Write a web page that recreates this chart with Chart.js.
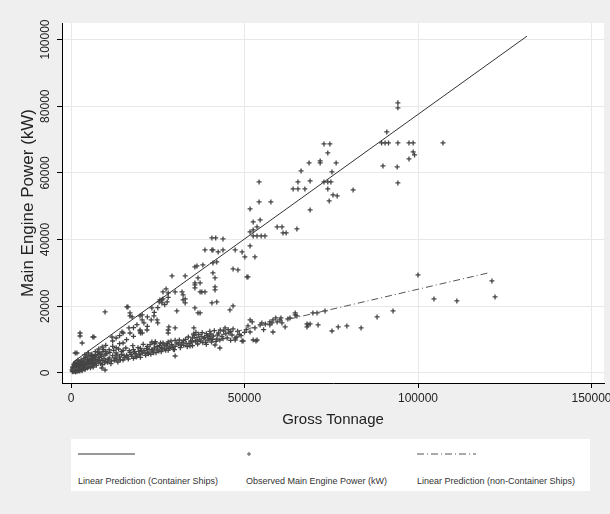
<!DOCTYPE html>
<html>
<head>
<meta charset="utf-8">
<script src="https://cdn.jsdelivr.net/npm/chart.js@4.4.1/dist/chart.umd.min.js"></script>
<style>
  body { margin: 0; background: #efefef; font-family: "Liberation Sans", Arial, sans-serif; }
  #wrap { position: relative; width: 610px; height: 514px; }
  #legend { position: absolute; left: 71px; top: 439px; width: 519px; height: 52px; background: #fff; }
  .item { position: absolute; top: 0; font-size: 9px; color: #333; }
  .item .sample { position: absolute; top: 10px; left: 0; }
  .item .label { position: absolute; top: 37px; left: 0; white-space: nowrap; }
</style>
</head>
<body>
<div id="wrap">
  <canvas id="chart" width="610" height="514"></canvas>
  <div id="legend">
    <div class="item" style="left:7px">
      <svg class="sample" width="60" height="10"><line x1="0" y1="5" x2="57" y2="5" stroke="#333" stroke-width="1"/></svg>
      <span class="label">Linear Prediction (Container Ships)</span>
    </div>
    <div class="item" style="left:175px">
      <svg class="sample" width="10" height="10"><path d="M3 3v4M1 5h4" stroke="#555" stroke-width="1"/></svg>
      <span class="label">Observed Main Engine Power (kW)</span>
    </div>
    <div class="item" style="left:346px">
      <svg class="sample" width="62" height="10"><line x1="0" y1="5" x2="59" y2="5" stroke="#555" stroke-width="1" stroke-dasharray="7,3,1,3"/></svg>
      <span class="label">Linear Prediction (non-Container Ships)</span>
    </div>
  </div>
</div>
<script>
const tonnageTicks = [0, 50000, 100000, 150000];
const powerTicks = [0, 20000, 40000, 60000, 80000, 100000];

// fitted lines (end points)
const containerFit = [[500, 3200], [131400, 101000]];
const nonContainerFit = [[100, 980], [120200, 30000]];

// observed ships: [gross tonnage, main engine power kW]
const observed = [
  [300,900],[500,1200],[600,700],[800,1500],[900,1000],[1000,2000],[1100,600],[1200,1300],[1300,1800],[1500,900],
  [1500,2400],[1600,1500],[1800,1100],[1900,2000],[2000,2800],[2100,700],[2200,1600],[2400,1200],[2500,2200],[2600,3000],
  [2800,1800],[3000,1000],[3000,2500],[3200,3400],[3300,1500],[3500,2000],[3600,2800],[3800,1200],[4000,3600],[4000,2300],
  [4200,1700],[4500,3000],[4600,2600],[4800,4000],[5000,1800],[5000,3300],[5200,2400],[5500,4200],[5500,2900],[5800,3700],
  [6000,2100],[6000,4800],[6300,3200],[6500,2600],[6600,4400],[7000,3600],[7000,5200],[7200,2900],[7500,4000],[7800,5600],
  [8000,3300],[8000,4600],[8300,6000],[8500,2800],[8800,5000],[9000,3800],[9200,6400],[9500,4300],[9800,5400],[10000,3500],
  [400,400],[700,500],[1200,350],[1800,500],[2500,600],[3200,700],[800,2600],[1400,3100],[500,1800],[2000,3800],
  [600,1600],[900,2200],[1100,2900],[1400,400],[1700,2600],[2300,3300],[2700,1000],[2900,3900],[3400,2600],[3700,4400],
  [4100,1100],[4300,4700],[4700,1500],[4900,5100],[5300,3700],[5600,1600],[5900,5300],[6200,3900],[6400,1800],[6800,4900],
  [7300,2300],[7600,6300],[8200,3900],[8600,5500],[9100,2500],[9400,7000],[9700,3100],[10300,5800],[10700,4000],[11200,6200],
  [11600,3600],[12300,6800],[12700,4500],[13200,5400],[13700,7200],[14200,3900],[14600,6400],[15300,5200],[15800,7500],[16300,4900],
  [16800,6700],[17300,5600],[17800,8200],[18300,6300],[18800,4800],[19300,7600],[19800,5600],[20300,6700],[20800,8600],[21300,6200],
  [21800,7400],[22300,5800],[22800,8500],[23300,7000],[23800,6100],[24300,9400],[24800,7900],[25300,6600],[25800,9000],[26300,7300],
  [26800,8400],[27300,6800],[27800,8800],[28300,7400],[28800,9600],[29300,8000],[29800,7000],[30500,9000],[31200,9900],[31800,8400],
  [32400,9700],[33200,8900],[33800,10800],[34300,8100],[34800,9300],[35300,11700],[35800,9700],[36300,10600],[36800,11600],[37300,9600],
  [37800,12100],[38300,10300],[38800,9200],[39300,11200],[39800,10900],[40300,11700],[40800,10100],[41300,12700],[41800,9500],[42300,11400],
  [43000,12900],[43800,10300],[44600,11800],[45300,13000],[46000,12500],[48000,12500],[49000,11200],[50500,13000],[53000,13500],[55500,13000],
  [56000,14700],
  [4000,5500],[5000,6000],[6000,5600],[7000,6400],[8000,7200],[9000,7800],[10000,6500],[10000,8300],[11000,7000],[12000,8000],
  [12000,9600],[13000,7600],[13000,10500],[14000,8800],[14000,11200],[15000,9000],[15000,12000],[16000,10000],[17000,12000],[18000,11000],
  [18000,13600],[19000,14500],[20000,12000],[21000,15000],[22000,14000],[22000,16800],[24000,18200],[25000,15000],[25000,19600],[27000,20500],
  [28000,22700],
  [10500,3200],[11000,4500],[11500,2800],[12000,5200],[12500,3800],[13000,4100],[13000,6000],[13500,3300],[14000,4800],[14500,5600],
  [15000,3900],[15000,6800],[15500,4600],[16000,5300],[16500,4200],[17000,6200],[17500,5000],[18000,4400],[18000,7000],[18500,5800],
  [19000,5100],[19500,6500],[20000,4700],[20000,7400],
  [20500,5900],[21000,6800],[21500,5300],[22000,6200],[22000,8000],[22500,7100],[23000,5600],[23500,6600],[24000,7500],[24000,8800],
  [24500,6100],[25000,7000],[25500,8200],[26000,6400],[26000,7600],[26500,9000],[27000,7200],[27500,8100],[28000,6800],[28000,9300],
  [28500,7700],[29000,8500],[29500,7100],[30000,8000],[30000,9800],[30000,5100],[31000,8700],
  [31500,7600],[32000,9200],[32500,8300],[33000,10100],[33500,7900],[34000,8800],[34500,9600],[35000,10500],[35000,8200],[35500,11200],
  [36000,9400],[36000,12200],[36500,8700],[37000,10000],[37500,11000],[38000,9100],[38500,10700],[39000,11800],[39000,8600],[39500,9900],
  [40000,10400],[40000,12500],[40500,9300],[41000,11100],[41500,8400],[42000,10200],[42500,12000],[42900,7500],[42900,9900],[43500,11000],
  [44000,12600],[44400,13500],[45000,10500],[45500,12000],[46000,9800],[46400,11400],[46700,13200],[47300,9900],[47300,10500],[47800,10800],
  [48500,11600],[49300,9600],[49600,9600],[50000,12200],[51000,14100],[51600,12300],[51600,15900],[52200,15300],[52500,9900],[53300,9600],
  [53600,9900],[54500,14400],[55000,15000],
  [57300,14400],[57300,15300],[57900,15000],[58200,15900],[58200,12300],[59400,15300],[60200,15900],[60800,15000],[61700,13800],[62500,16200],
  [63100,16500],[64600,17400],[65100,17100],[64600,18000],[59000,16500],[60500,16500],[68000,14700],[68000,13800],[68300,14400],[68900,14700],
  [69700,18000],[70900,18000],[71200,14400],[73200,18600],[75200,12600],[77000,13800],[79500,14100],[83600,13500],[88200,16800],[92800,18600],
  [100000,29400],[104600,22200],[111200,21600],[121300,27600],[122200,22800],
  [2600,12000],[2600,11100],[3200,9000],[1200,6000],[1700,6000],[6600,10800],[6300,10800],[9800,18300],[8900,1500],[9800,900],
  [11800,10800],[14700,12300],[16700,13500],[20500,17400],[23300,19500],[26200,21000],
  [16100,19800],[17000,17100],[16400,19800],[17000,18000],[17600,16800],[19900,17100],[20500,15900],[23100,15900],[23900,17100],[24800,15900],
  [25400,21300],[26200,21900],[28200,13800],[28000,12000],[19900,12600],[20500,12000],[21900,12900],[19900,12900],[23300,9300],[24200,9000],
  [29100,29100],[27400,25200],[26500,24300],[28000,24000],[30000,24300],[32300,23400],[32900,22200],[25600,21900],[26500,22200],[27700,21300],
  [35700,27000],[35700,25500],[37200,24300],[38600,24300],[36600,28500],[41500,28500],[41500,25800],[41500,24900],[40900,30000],[46700,31200],
  [48100,30900],[51000,28800],[40600,21000],[42000,21300],[46700,20100],[30500,18600],[36600,18000],[37200,18000],[35700,19500],[32000,24300],
  [32300,21900],[32900,21000],[32900,29100],[35700,26400],[37200,27000],[37700,24300],[50700,28800],[35400,13500],[28000,12900],[30000,13500],
  [35700,31800],[36300,32100],[38000,32400],[40900,33000],[42000,33300],[40600,36900],[42400,36300],[43800,36900],[47300,36900],[49300,36300],
  [50100,34800],[53000,34800],[38600,36900],[40900,36900],[40600,40500],[41700,40500],[43800,40200],[61100,42000],[45800,18900],
  [51600,38100],[52500,41100],[53600,41100],[54800,41100],[55900,41100],[52500,42900],[51600,42300],[53600,43800],[59400,43800],[60800,43800],
  [65100,43200],[62000,42000],[54500,45900],[52500,45300],[68900,48900],[51600,49200],[54200,51300],[57600,51300],[74400,51600],[75500,53400],
  [76700,53100],[64000,55200],[65400,55200],[67400,55200],[74000,55200],[81300,54900],[54200,57300],[65400,57300],[68900,57600],[72900,57300],
  [74000,57300],[74900,57300],[66300,60600],[75200,60300],[68600,63000],[71800,63600],[71800,63000],[76400,63000],[74000,66000],[72900,68700],
  [74600,68700],
  [89900,62100],[94000,61800],[94200,57000],[97400,64200],[99000,65400],[98600,66300],[90500,69000],[89500,69000],[91500,69000],[94200,69000],
  [97400,69000],[98600,69000],[107200,69000],[91000,72300],[94200,81000],[94200,79500]
];

const toXY = arr => arr.map(p => ({ x: p[0], y: p[1] }));
const FONT = '"Liberation Sans", Arial, sans-serif';

const plotBackground = {
  id: 'plotBackground',
  beforeDraw(chart) {
    const { ctx, chartArea: a } = chart;
    ctx.save();
    ctx.fillStyle = '#ffffff';
    ctx.fillRect(a.left, a.top, a.right - a.left, a.bottom - a.top);
    ctx.restore();
  }
};

new Chart(document.getElementById('chart'), {
  data: {
    datasets: [
      {
        type: 'line',
        label: 'Linear Prediction (Container Ships)',
        data: toXY(containerFit),
        borderColor: '#333',
        borderWidth: 1,
        pointRadius: 0,
        order: 1
      },
      {
        type: 'scatter',
        label: 'Observed Main Engine Power (kW)',
        data: toXY(observed),
        pointStyle: 'cross',
        pointRadius: 2.5,
        borderColor: '#444',
        borderWidth: 1.3,
        order: 2
      },
      {
        type: 'line',
        label: 'Linear Prediction (non-Container Ships)',
        data: toXY(nonContainerFit),
        borderColor: '#555',
        borderWidth: 1,
        borderDash: [7, 3, 1, 3],
        pointRadius: 0,
        order: 0
      }
    ]
  },
  options: {
    responsive: false,
    animation: false,
    layout: { padding: { left: 0, top: 23, right: 6, bottom: 81 } },
    plugins: { legend: { display: false }, tooltip: { enabled: false } },
    scales: {
      x: {
        type: 'linear',
        min: -2600,
        max: 153600,
        afterBuildTicks: s => { s.ticks = tonnageTicks.map(v => ({ value: v })); },
        afterFit: s => { s.height = 50; s.paddingLeft = 0; s.paddingRight = 0; },
        grid: { color: '#e8e8e8', tickColor: '#000', tickLength: 5 },
        border: { color: '#000', width: 1 },
        ticks: { color: '#222', font: { family: FONT, size: 12 }, padding: 3, maxRotation: 0, callback: v => String(v) },
        title: { display: true, text: 'Gross Tonnage', color: '#222', font: { family: FONT, size: 15 }, padding: { top: 0, bottom: 4 } }
      },
      y: {
        type: 'linear',
        min: -3000,
        max: 104950,
        afterBuildTicks: s => { s.ticks = powerTicks.map(v => ({ value: v })); },
        afterFit: s => { s.width = 62; s.paddingTop = 0; s.paddingBottom = 0; },
        grid: { color: '#e8e8e8', tickColor: '#000', tickLength: 5 },
        border: { color: '#000', width: 1 },
        ticks: { color: '#222', font: { family: FONT, size: 12 }, minRotation: 90, maxRotation: 90, crossAlign: 'center', padding: -9, callback: v => String(v) },
        title: { display: true, text: 'Main Engine Power (kW)', color: '#222', font: { family: FONT, size: 17 }, padding: { top: 18, bottom: 0 } }
      }
    }
  },
  plugins: [plotBackground]
});
</script>
</body>
</html>
